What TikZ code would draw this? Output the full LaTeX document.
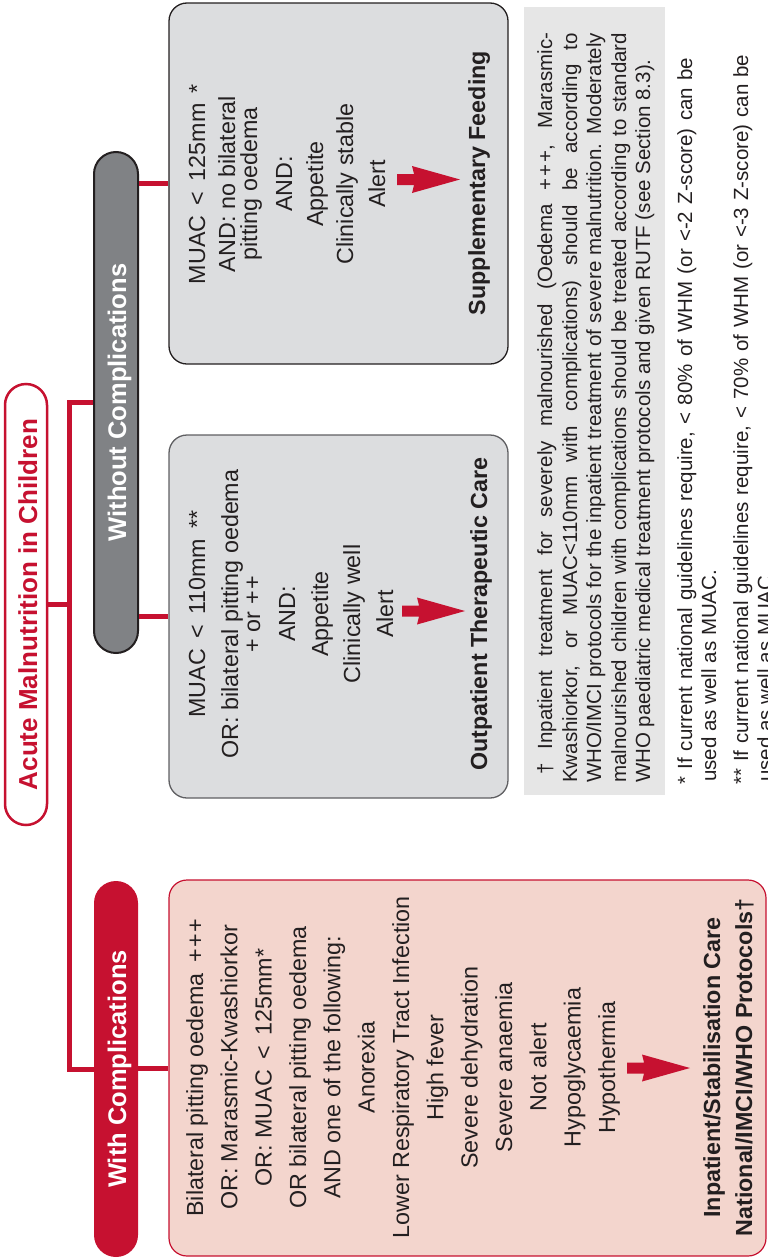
\documentclass[tikz,border=0pt]{standalone}
\usepackage{fontspec}
\setmainfont{Liberation Sans}
\usetikzlibrary{calc}
\definecolor{crim}{RGB}{198,17,48}
\definecolor{pinkfill}{RGB}{243,213,205}
\definecolor{boxgray}{RGB}{220,221,223}
\definecolor{pillgray}{RGB}{128,130,133}
\definecolor{notegray}{RGB}{230,230,230}
\definecolor{ink}{RGB}{35,31,32}
\definecolor{edgegray}{RGB}{95,95,98}
\newcommand\pp{+\kern1.8pt+}
\newcommand\ppp{+\kern1.8pt+\kern1.8pt+}
\tikzset{
  txt/.style={rotate=90, anchor=base, inner sep=0pt, text=ink, font=\fontsize{23.3}{28}\selectfont},
  btxt/.style={txt, font=\fontsize{23.3}{28}\selectfont\bfseries},
  pilltxt/.style={txt, text=white, font=\fontsize{25.5}{30}\selectfont\bfseries},
  note/.style={rotate=90, anchor=base west, inner sep=0pt, text=ink, font=\fontsize{20.5}{24}\selectfont},
  link/.style={draw=crim, line width=5pt},
  pill/.style={rounded corners=22pt, minimum width=44pt, inner sep=0pt},
  card/.style={rounded corners=18pt, inner sep=0pt, line width=1.3pt, minimum width=339pt},
  fatarrow/.pic={\fill[crim] (0,-5.5) -- (17,-5.5) -- (15,-13.5) -- (63,0) -- (15,13.5) -- (17,5.5) -- (0,5.5) -- cycle;}
}
\begin{document}
\begin{tikzpicture}[x=1pt, y=-1pt, line join=miter]
\useasboundingbox (0,0) rectangle (768,1258);

% pills
\node[pill, draw=crim, line width=2.5pt, fill=white, minimum width=42pt, minimum height=441pt, rounded corners=21pt] (title) at (26,604.5) {};
\node[btxt, text=crim, font=\fontsize{26}{30}\selectfont\bfseries] (titletxt) at (37,604.5) {Acute Malnutrition in Children};

\node[pill, draw=ink, line width=2pt, fill=pillgray, minimum height=501pt] (without) at (116,402.5) {};
\node[pilltxt] (withouttxt) at (126,402.5) {Without Complications};

\node[pill, fill=crim, minimum height=376pt] (withc) at (116,1069) {};
\node[pilltxt] (withtxt) at (126,1069) {With Complications};

% boxes
\node[card, draw=ink, fill=boxgray, minimum height=361pt] (supbox) at (338.5,183.5) {};
\node[card, draw=edgegray, fill=boxgray, minimum height=363pt] (outbox) at (338.5,616.5) {};
\node[card, draw=crim, line width=1.2pt, fill=pinkfill, minimum width=597pt, minimum height=376pt] (inbox) at (467.5,1068) {};
\node[fill=notegray, inner sep=0pt, minimum width=141pt, minimum height=788pt] (notebox) at (594.5,401) {};

% connectors
\coordinate (ttop) at (69,402.5);
\coordinate (tmid) at (69,604.5);
\coordinate (tbot) at (69,1069);
\draw[link] (without.west) -- (ttop) -- (tbot) -- (withc.west);
\draw[link] (title.east) -- (tmid);
\draw[link] (without.east |- supbox.west) -- (supbox.west);
\draw[link] (without.east |- outbox.west) -- (outbox.west);
\draw[link] (withc.east |- inbox.west) -- (inbox.west);

% supplementary feeding box
\node[txt] (s1) at (205,184) {MUAC \,<\, 125mm \,*};
\node[txt] (s2) at (235,184) {AND: no bilateral};
\node[txt] (s3) at (257,184) {pitting oedema};
\node[txt] (s4) at (292,184) {AND:};
\node[txt] (s5) at (323,184) {Appetite};
\node[txt] (s6) at (353,184) {Clinically stable};
\node[txt] (s7) at (385,184) {Alert};
\pic (sarrow) at (397,179.5) {fatarrow};
\node[btxt] (s8) at (485,183) {Supplementary Feeding};

% outpatient box
\node[txt] (o1) at (205,614) {MUAC \,<\, 110mm \,**};
\node[txt] (o2) at (238,614) {OR: bilateral pitting oedema};
\node[txt] (o3) at (260,614) {+ or \pp};
\node[txt] (o4) at (295,614) {AND:};
\node[txt] (o5) at (328,614) {Appetite};
\node[txt] (o6) at (360,614) {Clinically well};
\node[txt] (o7) at (393,614) {Alert};
\pic (oarrow) at (402,611) {fatarrow};
\node[btxt] (o8) at (487,614) {Outpatient Therapeutic Care};

% inpatient box
\node[txt] (i1) at (203,1067.5) {Bilateral pitting oedema \,\ppp};
\node[txt] (i2) at (237.3,1067.5) {OR: Marasmic-Kwashiorkor};
\node[txt] (i3) at (271.7,1067.5) {OR: MUAC \,<\, 125mm*};
\node[txt] (i4) at (306,1067.5) {OR bilateral pitting oedema};
\node[txt] (i5) at (340.3,1067.5) {AND one of the following:};
\node[txt] (i6) at (374.7,1067.5) {Anorexia};
\node[txt] (i7) at (409,1067.5) {Lower Respiratory Tract Infection};
\node[txt] (i8) at (443.3,1067.5) {High fever};
\node[txt] (i9) at (477.7,1067.5) {Severe dehydration};
\node[txt] (i10) at (512,1067.5) {Severe anaemia};
\node[txt] (i11) at (546.3,1067.5) {Not alert};
\node[txt] (i12) at (580.7,1067.5) {Hypoglycaemia};
\node[txt] (i13) at (615,1067.5) {Hypothermia};
\pic (iarrow) at (627,1068) {fatarrow};
\node[btxt] (i14) at (720,1067.5) {Inpatient/Stabilisation Care};
\node[btxt] (i15) at (752,1067.5) {National/IMCI/WHO Protocols†};

% footnotes
\node[note] (n1) at (552,775) {\makebox[742pt][s]{† Inpatient treatment for severely malnourished (Oedema \ppp, Marasmic-}};
\node[note] (n2) at (577,783) {\makebox[750pt][s]{Kwashiorkor, or MUAC<110mm with complications) should be according to}};
\node[note] (n3) at (601,783) {\makebox[750pt][s]{WHO/IMCI protocols for the inpatient treatment of severe malnutrition. Moderately}};
\node[note] (n4) at (626,783) {\makebox[750pt][s]{malnourished children with complications should be treated according to standard}};
\node[note] (n5) at (650,783) {WHO paediatric medical treatment protocols and given RUTF (see Section 8.3).};
\node[note] (f1) at (692,785) {\makebox[727pt][s]{* If current national guidelines require, < 80\% of WHM (or <-2 Z-score) can be}};
\node[note] (f2) at (716,782) {used as well as MUAC.};
\node[note] (f3) at (748,785) {\makebox[730pt][s]{** If current national guidelines require, < 70\% of WHM (or <-3 Z-score) can be}};
\node[note] (f4) at (772,782) {used as well as MUAC.};
\end{tikzpicture}
\end{document}
